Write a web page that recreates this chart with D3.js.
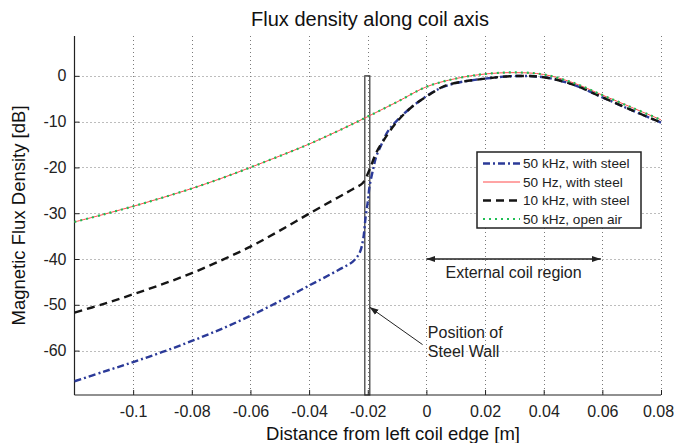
<!DOCTYPE html>
<html>
<head>
<meta charset="utf-8">
<script src="https://cdn.jsdelivr.net/npm/d3@7"></script>
<style>
  html, body { margin: 0; padding: 0; background: #fff; }
  svg { display: block; font-family: "Liberation Sans", Arial, sans-serif; }
</style>
</head>
<body>
<svg id="chart" width="674" height="443"></svg>
<script>
// ---- data ----
const xTicks = [-0.1, -0.08, -0.06, -0.04, -0.02, 0, 0.02, 0.04, 0.06, 0.08];
const xTickLabels = ["-0.1", "-0.08", "-0.06", "-0.04", "-0.02", "0", "0.02", "0.04", "0.06", "0.08"];
const yTicks = [-60, -50, -40, -30, -20, -10, 0];
const yTickLabels = ["-60", "-50", "-40", "-30", "-20", "-10", "0"];

const seriesNames = ["50 kHz, with steel", "50 Hz, with steel", "10 kHz, with steel", "50 kHz, open air"];

const xBlue = [-0.12, -0.11, -0.10, -0.09, -0.08, -0.07, -0.06, -0.05, -0.04, -0.03, -0.025, -0.0228, -0.0216, -0.0207, -0.0199, -0.0194, -0.0182, -0.0171, -0.0154, -0.0132, -0.0098, -0.0034, 0.0044, 0.01, 0.02, 0.03, 0.04, 0.05, 0.06, 0.07, 0.08];
const yBlue = [-66.7, -64.6, -62.5, -60.3, -57.9, -55.3, -52.4, -49.2, -45.8, -42.4, -40.5, -38.7, -35.8, -30.7, -27.1, -24.2, -20.5, -17.6, -15.1, -12.2, -9.6, -6.0, -2.8, -1.6, -0.6, -0.05, -0.3, -1.9, -4.7, -7.5, -10.2];

const xRed = [-0.12, -0.11, -0.10, -0.09, -0.08, -0.07, -0.06, -0.05, -0.04, -0.03, -0.02, -0.01, 0, 0.01, 0.02, 0.03, 0.04, 0.05, 0.06, 0.07, 0.08];
const yRed = [-31.9, -30.25, -28.5, -26.6, -24.6, -22.4, -20.0, -17.5, -14.9, -12.0, -8.9, -5.7, -2.4, -0.6, 0.4, 0.7, 0.3, -1.5, -4.2, -6.9, -9.6];

const xBlack = [-0.12, -0.11, -0.10, -0.09, -0.08, -0.07, -0.06, -0.05, -0.04, -0.03, -0.025, -0.0217, -0.0194, -0.0172, -0.015, -0.01, -0.0048, 0.001, 0.0067, 0.02, 0.03, 0.04, 0.05, 0.06, 0.07, 0.08];
const yBlack = [-51.7, -49.8, -47.7, -45.5, -43.1, -40.3, -37.3, -33.8, -30.1, -26.5, -24.7, -23.4, -20.5, -16.9, -14.5, -10.0, -6.7, -4.1, -2.1, -0.6, -0.05, -0.3, -1.9, -4.7, -7.5, -10.2];

const xGreen = [-0.12, -0.11, -0.10, -0.09, -0.08, -0.07, -0.06, -0.05, -0.04, -0.03, -0.02, -0.01, 0, 0.01, 0.02, 0.03, 0.04, 0.05, 0.06, 0.07, 0.08];
const yGreen = [-31.9, -30.25, -28.5, -26.6, -24.6, -22.4, -20.0, -17.5, -14.9, -12.0, -8.9, -5.7, -2.4, -0.6, 0.4, 0.75, 0.3, -1.5, -4.2, -6.9, -9.6];

const wallX = [-0.021, -0.0193];
const wallY = [-69.7, 0];

// ---- layout ----
const svg = d3.select("#chart");
const mL = 74.5, mR = 661, mT = 36, mB = 395;
const x = d3.scaleLinear().domain([-0.12, 0.08]).range([mL, mR]);
const y = d3.scaleLinear().domain([-69.7, 8.7]).range([mB, mT]);

// grid
const grid = svg.append("g").attr("stroke", "#7a7a7a").attr("stroke-width", 1).attr("stroke-dasharray", "1,3");
grid.selectAll(".vg").data(xTicks).join("line")
  .attr("x1", d => Math.round(x(d)) + 0.5).attr("x2", d => Math.round(x(d)) + 0.5)
  .attr("y1", mT).attr("y2", mB);
grid.selectAll(".hg").data(yTicks).join("line")
  .attr("y1", d => Math.round(y(d)) + 0.5).attr("y2", d => Math.round(y(d)) + 0.5)
  .attr("x1", mL).attr("x2", mR);

// steel wall
svg.append("rect")
  .attr("x", x(wallX[0])).attr("y", y(wallY[1]))
  .attr("width", x(wallX[1]) - x(wallX[0])).attr("height", y(wallY[0]) - y(wallY[1]))
  .attr("fill", "none").attr("stroke", "#333").attr("stroke-width", 1.2);

// axes
const xAxis = d3.axisBottom(x).tickValues(xTicks).tickFormat((d, i) => xTickLabels[i]).tickSize(-5).tickPadding(11);
const yAxis = d3.axisLeft(y).tickValues(yTicks).tickFormat((d, i) => yTickLabels[i]).tickSize(-5).tickPadding(8);
const gx = svg.append("g").attr("transform", `translate(0,${mB})`).call(xAxis);
const gy = svg.append("g").attr("transform", `translate(${mL},0)`).call(yAxis);
[gx, gy].forEach(g => {
  g.select(".domain").remove();
  g.selectAll("line").attr("stroke", "#222");
  g.selectAll("text").attr("font-size", 16).attr("fill", "#222").attr("font-family", "Liberation Sans, Arial, sans-serif");
});
gx.selectAll("text").filter(d => d === 0.08).attr("dx", -3);
svg.append("line").attr("x1", mL).attr("x2", mL).attr("y1", mT).attr("y2", mB).attr("stroke", "#222").attr("stroke-width", 1.2);
svg.append("line").attr("x1", mL).attr("x2", mR).attr("y1", mB).attr("y2", mB).attr("stroke", "#222").attr("stroke-width", 1.2);

// series
const line = d3.line().x(d => x(d[0])).y(d => y(d[1])).curve(d3.curveCatmullRom.alpha(0.5));
const zip = (xs, ys) => xs.map((v, i) => [v, ys[i]]);
const styles = [
  { xs: xBlue, ys: yBlue, color: "#2b3a98", width: 2.4, dash: "7,3,2,3" },
  { xs: xRed, ys: yRed, color: "#ff4a4a", width: 1, dash: null },
  { xs: xBlack, ys: yBlack, color: "#151515", width: 2.4, dash: "8,5" },
  { xs: xGreen, ys: yGreen, color: "#1fbf55", width: 2.2, dash: "2,4" }
];
styles.forEach(s => {
  svg.append("path").datum(zip(s.xs, s.ys))
    .attr("d", line).attr("fill", "none")
    .attr("stroke", s.color).attr("stroke-width", s.width)
    .attr("stroke-dasharray", s.dash);
});

// annotations
svg.append("defs").html(`
  <marker id="ah" viewBox="0 0 10 10" refX="10" refY="5" markerWidth="9" markerHeight="9" orient="auto-start-reverse" markerUnits="userSpaceOnUse">
    <path d="M0,1.5 L10,5 L0,8.5 Z" fill="#222"/>
  </marker>`);
svg.append("line")
  .attr("x1", x(0)).attr("x2", x(0.0595)).attr("y1", y(-40)).attr("y2", y(-40))
  .attr("stroke", "#222").attr("stroke-width", 1.3)
  .attr("marker-start", "url(#ah)").attr("marker-end", "url(#ah)");
svg.append("text").attr("x", (x(0) + x(0.0595)) / 2).attr("y", y(-40) + 19)
  .attr("text-anchor", "middle").attr("font-size", 16).attr("fill", "#222").text("External coil region");

svg.append("line")
  .attr("x1", x(-0.0013)).attr("y1", y(-58.7)).attr("x2", x(-0.0194)).attr("y2", y(-50.5))
  .attr("stroke", "#222").attr("stroke-width", 1)
  .attr("marker-end", "url(#ah)");
svg.append("text").attr("x", x(0.0005)).attr("y", y(-57.2)).attr("font-size", 16).attr("fill", "#222").text("Position of");
svg.append("text").attr("x", x(0.0005)).attr("y", y(-61.4)).attr("font-size", 16).attr("fill", "#222").text("Steel Wall");

// legend
const lg = svg.append("g").attr("transform", "translate(477,152)");
lg.append("rect").attr("width", 164).attr("height", 76).attr("fill", "#fff").attr("stroke", "#222").attr("stroke-width", 1.5);
seriesNames.forEach((name, i) => {
  const yy = 11.5 + i * 18.5;
  lg.append("line").attr("x1", 6).attr("x2", 43).attr("y1", yy).attr("y2", yy)
    .attr("stroke", styles[i].color).attr("stroke-width", styles[i].width).attr("stroke-dasharray", styles[i].dash);
  lg.append("text").attr("x", 46).attr("y", yy + 4.8).attr("font-size", 13.6).attr("fill", "#222").text(name);
});

// titles
svg.append("text").attr("x", 370).attr("y", 26).attr("text-anchor", "middle")
  .attr("font-size", 20).attr("fill", "#111").text("Flux density along coil axis");
svg.append("text").attr("x", 393).attr("y", 440).attr("text-anchor", "middle")
  .attr("font-size", 18.5).attr("fill", "#111").text("Distance from left coil edge [m]");
svg.append("text").attr("transform", `translate(25,${(mT + mB) / 2}) rotate(-90)`).attr("text-anchor", "middle")
  .attr("font-size", 18.5).attr("fill", "#111").text("Magnetic Flux Density [dB]");
</script>
</body>
</html>
